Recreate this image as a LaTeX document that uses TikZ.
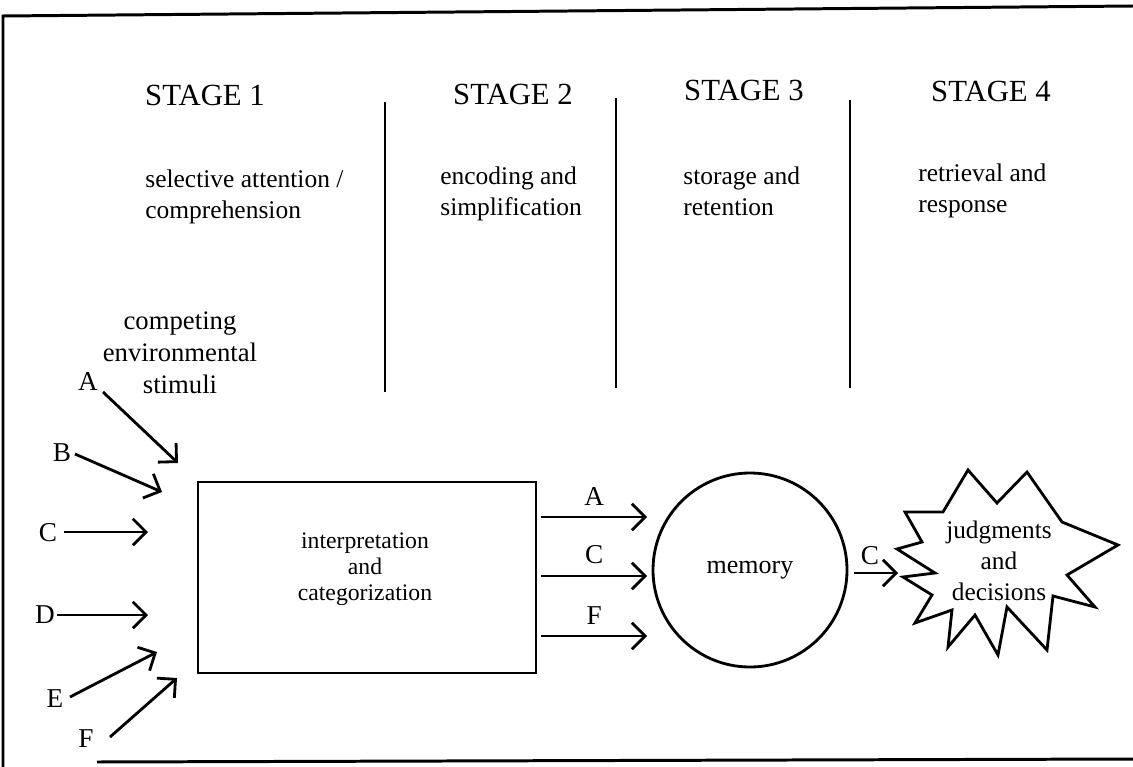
\documentclass[tikz,border=0pt]{standalone}
\usepackage{fontspec}
\setmainfont{Liberation Serif}
\usetikzlibrary{arrows.meta}
\begin{document}
\begin{tikzpicture}[x=0.02cm,y=-0.02cm,
  frame/.style={line width=1.7pt},
  divider/.style={line width=1.4pt},
  stagehead/.style={font=\fontsize{17.5}{20}\selectfont, inner sep=0pt},
  stagenote/.style={font=\fontsize{14.5}{17.8}\selectfont, align=left, inner sep=0pt, anchor=west},
  plain/.style={font=\fontsize{14.5}{17.8}\selectfont, align=center, inner sep=0pt},
  letter/.style={font=\fontsize{15.5}{17}\selectfont, inner sep=0pt},
  flow/.style={line width=1.6pt, -{Straight Barb[length=7.5pt,width=15pt,line width=1.6pt]}},
  procbox/.style={draw, line width=1.6pt, minimum width=338*0.02cm, minimum height=191*0.02cm,
                  inner sep=0pt},
  store/.style={draw, circle, line width=1.6pt, minimum size=194*0.02cm,
                font=\fontsize{14.8}{16}\selectfont, inner sep=0pt}]
\useasboundingbox (0,0) rectangle (1133,767);

% outer frame (open on the right)
\draw[frame] (1133,6) -- (3,16) -- (3,767);
\draw[frame] (97,762) -- (1133,759);

% stage headings
\node[stagehead] (s1) at (205,95) {STAGE 1};
\node[stagehead] (s2) at (513,94) {STAGE 2};
\node[stagehead] (s3) at (744,90) {STAGE 3};
\node[stagehead] (s4) at (991,91) {STAGE 4};

% stage descriptions
\node[stagenote] (d1) at (145,197) {selective attention /\\comprehension};
\node[stagenote] (d2) at (440,194) {encoding and\\simplification};
\node[stagenote] (d3) at (683,191) {storage and\\retention};
\node[stagenote] (d4) at (918,191) {retrieval and\\response};

% stage dividers
\draw[divider] (385,102) -- (385,392);
\draw[divider] (616,98) -- (616,388);
\draw[divider] (850,100) -- (850,388);

\node[plain, font=\fontsize{15.2}{18.1}\selectfont] (env) at (180,353) {competing\\environmental\\stimuli};

% incoming stimuli
\node[letter] (inA) at (88,382) {A};
\node[letter] (inB) at (62,453) {B};
\node[letter] (inC) at (48,533) {C};
\node[letter] (inD) at (45,615) {D};
\node[letter] (inE) at (55,699) {E};
\node[letter] (inF) at (86,739) {F};
\coordinate (hA) at (178,463);
\coordinate (hB) at (162,492);
\coordinate (hC) at (148,532);
\coordinate (hD) at (148,615);
\coordinate (hE) at (157,652);
\coordinate (hF) at (177,678);
\draw[flow] (103,392) -- (hA);
\draw[flow] (75,454) -- (hB);
\draw[flow] (64,532) -- (hC);
\draw[flow] (57,615) -- (hD);
\draw[flow] (70,697) -- (hE);
\draw[flow] (110,737) -- (hF);

% processing box
\node[procbox] (proc) at (367,577.5) {};
\node[font=\fontsize{13.5}{14.8}\selectfont, align=center, inner sep=0pt] (proctext) at (365,569)
  {interpretation\\and\\categorization};

% memory
\node[store] (mem) at (750,570) {memory};

% box to memory
\coordinate (mA) at (647,517);
\coordinate (mC) at (647,576);
\coordinate (mF) at (647,636);
\draw[flow] (proc.east |- mA) ++(4,0) -- node[letter, above=6pt] (oA) {A} (mA);
\draw[flow] (proc.east |- mC) ++(4,0) -- node[letter, above=6pt] (oC) {C} (mC);
\draw[flow] (proc.east |- mF) ++(4,0) -- node[letter, above=6pt] (oF) {F} (mF);

% judgments and decisions burst
\draw[line width=1.6pt, line join=miter]
  (905,512) -- (943,512) -- (968,470) -- (997,503) -- (1027,472) -- (1062,522)
  -- (1118,545) -- (1067,575) -- (1095,607) -- (1053,596) -- (1047,650)
  -- (1007,607) -- (998,655) -- (975,615) -- (948,647) -- (952,610)
  -- (915,623) -- (932,595) -- (903,577) -- (935,573) -- (897,549)
  -- (922,542) -- cycle;
\node[plain, font=\fontsize{14.4}{17.6}\selectfont] (judg) at (999,561) {judgments\\and\\decisions};

% memory to decision
\coordinate (jC) at (898,573);
\draw[flow] (mem.east) ++(6,3) -- (jC);
\node[letter] (rC) at (870,556) {C};
\end{tikzpicture}
\end{document}
